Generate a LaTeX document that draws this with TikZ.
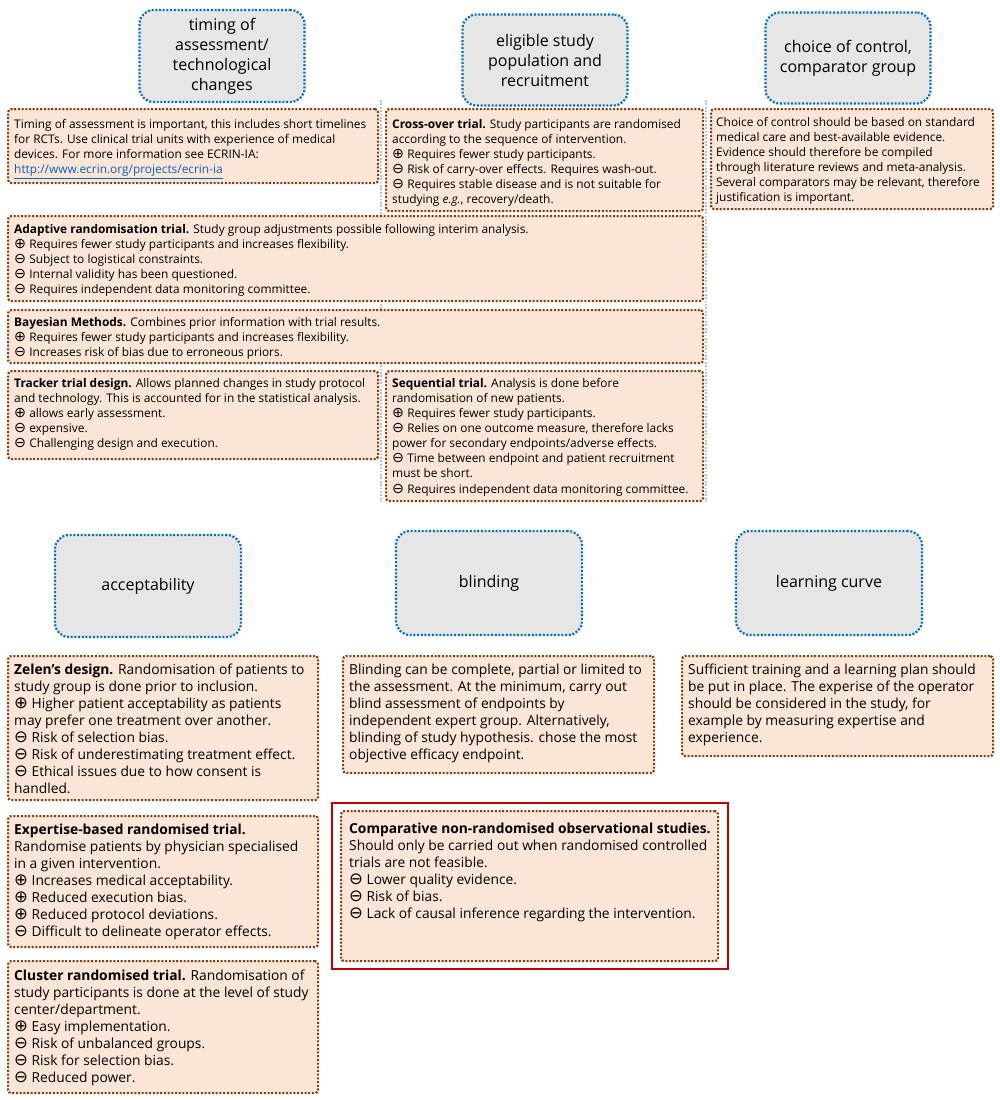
\documentclass[tikz,border=0pt]{standalone}
\usepackage{fontspec}
\setmainfont{Open Sans}
\newfontfamily\symf[Scale=1.2]{DejaVu Sans}
\definecolor{hdrblue}{HTML}{0070C0}
\definecolor{hdrfill}{HTML}{E7E6E6}
\definecolor{boxfill}{HTML}{FBE5D6}
\definecolor{boxline}{HTML}{843C0C}
\definecolor{grpgray}{HTML}{BFBFBF}
\definecolor{redframe}{HTML}{C00000}
\definecolor{linkblue}{HTML}{0563C1}
\newcommand{\myplus}{{\symf ⊕}}
\newcommand{\myminus}{{\symf ⊖}}
\begin{document}
\begin{tikzpicture}[x=1pt,y=-1pt,
  hdr/.style={draw=hdrblue, fill=hdrfill, line width=2.2pt, dash pattern=on 2pt off 1.7pt,
    rounded corners=14pt, inner sep=0pt, align=center, font=\fontsize{16}{20}\selectfont},
  tbox/.style={draw=boxline, fill=boxfill, line width=2.2pt, dash pattern=on 2pt off 1.7pt,
    rounded corners=3pt, inner sep=0pt, anchor=north west},
  txt/.style={anchor=north west, inner sep=0pt, align=left, font=\fontsize{11.9}{15.1}\selectfont},
  txtL/.style={txt, font=\fontsize{13.8}{17}\selectfont},
  grp/.style={draw=grpgray, line width=1.8pt, dash pattern=on 1.8pt off 1.6pt},
  redf/.style={draw=redframe, line width=2.2pt, inner sep=0pt, anchor=north west}
]
\fill[white] (0,0) rectangle (1000,1100);
\useasboundingbox (0,0) rectangle (1000,1100);

% group guide lines
\coordinate (g1t) at (381,100); \coordinate (g1b) at (381,502);
\coordinate (g2t) at (706,100); \coordinate (g2b) at (706,502);
\draw[grp] (g1t) -- (g1b);
\draw[grp] (g2t) -- (g2b);

% header boxes
\node[hdr, minimum width=165pt, minimum height=92pt] (h1) at (222,56) {timing of\\assessment/\\technological\\changes};
\node[hdr, minimum width=165pt, minimum height=91pt] (h2) at (545,60) {eligible study\\population and\\recruitment};
\node[hdr, minimum width=165pt, minimum height=91pt] (h3) at (848,58) {choice of control,\\comparator group};
\node[hdr, minimum width=186pt, minimum height=102pt] (h4) at (148,586) {acceptability};
\node[hdr, minimum width=186pt, minimum height=104pt] (h5) at (489,583) {blinding};
\node[hdr, minimum width=186pt, minimum height=104pt] (h6) at (829,583) {learning curve};

% text boxes
\node[tbox, minimum width=370pt, minimum height=74pt] (A) at (7,108) {};
\node[txt] (At) at (14,119) {Timing of assessment is important, this includes short timelines\\
for RCTs. Use clinical trial units with experience of medical\\
devices. For more information see ECRIN-IA:\\
\textcolor{linkblue}{\underline{http://www.ecrin.org/projects/ecrin-ia}}};

\node[tbox, minimum width=317pt, minimum height=102pt] (B) at (385,108) {};
\node[txt] (Bt) at (392,119) {\textbf{Cross-over trial.} Study participants are randomised\\
according to the sequence of intervention.\\
\myplus{} Requires fewer study participants.\\
\myminus{} Risk of carry-over effects. Requires wash-out.\\
\myminus{} Requires stable disease and is not suitable for\\
studying \textit{e.g.}, recovery/death.};

\node[tbox, minimum width=282pt, minimum height=100pt] (C) at (710,108) {};
\node[txt] (Ct) at (716,117) {Choice of control should be based on standard\\
medical care and best-available evidence.\\
Evidence should therefore be compiled\\
through literature reviews and meta-analysis.\\
Several comparators may be relevant, therefore\\
justification is important.};

\node[tbox, minimum width=695pt, minimum height=85pt] (D) at (7,215) {};
\node[txt] (Dt) at (14,224) {\textbf{Adaptive randomisation trial.} Study group adjustments possible following interim analysis.\\
\myplus{} Requires fewer study participants and increases flexibility.\\
\myminus{} Subject to logistical constraints.\\
\myminus{} Internal validity has been questioned.\\
\myminus{} Requires independent data monitoring committee.};

\node[tbox, minimum width=695pt, minimum height=53pt] (E) at (7,309) {};
\node[txt] (Et) at (14,317) {\textbf{Bayesian Methods.} Combines prior information with trial results.\\
\myplus{} Requires fewer study participants and increases flexibility.\\
\myminus{} Increases risk of bias due to erroneous priors.};

\node[tbox, minimum width=370pt, minimum height=88pt] (F) at (7,370) {};
\node[txt] (Ft) at (14,378) {\textbf{Tracker trial design.} Allows planned changes in study protocol\\
and technology. This is accounted for in the statistical analysis.\\
\myplus{} allows early assessment.\\
\myminus{} expensive.\\
\myminus{} Challenging design and execution.};

\node[tbox, minimum width=317pt, minimum height=130pt] (G) at (385,370) {};
\node[txt] (Gt) at (392,378) {\textbf{Sequential trial.} Analysis is done before\\
randomisation of new patients.\\
\myplus{} Requires fewer study participants.\\
\myminus{} Relies on one outcome measure, therefore lacks\\
power for secondary endpoints/adverse effects.\\
\myminus{} Time between endpoint and patient recruitment\\
must be short.\\
\myminus{} Requires independent data monitoring committee.};

\node[tbox, minimum width=310pt, minimum height=144pt] (H) at (7,655) {};
\node[txtL] (Ht) at (14,663.5) {\textbf{Zelen’s design.} Randomisation of patients to\\
study group is done prior to inclusion.\\
\myplus{} Higher patient acceptability as patients\\
may prefer one treatment over another.\\
\myminus{} Risk of selection bias.\\
\myminus{} Risk of underestimating treatment effect.\\
\myminus{} Ethical issues due to how consent is\\
handled.};

\node[tbox, minimum width=311pt, minimum height=117pt] (I) at (342,655) {};
\node[txtL] (It) at (349,663.5) {Blinding can be complete, partial or limited to\\
the assessment. At the minimum, carry out\\
blind assessment of endpoints by\\
independent expert group. Alternatively,\\
blinding of study hypothesis. chose the most\\
objective efficacy endpoint.};

\node[tbox, minimum width=311pt, minimum height=100pt] (J) at (681,655) {};
\node[txtL] (Jt) at (688,663.5) {Sufficient training and a learning plan should\\
be put in place. The experise of the operator\\
should be considered in the study, for\\
example by measuring expertise and\\
experience.};

\node[tbox, minimum width=310pt, minimum height=131pt] (K) at (7,815) {};
\node[txtL] (Kt) at (14,823.5) {\textbf{Expertise-based randomised trial.}\\
Randomise patients by physician specialised\\
in a given intervention.\\
\myplus{} Increases medical acceptability.\\
\myplus{} Reduced execution bias.\\
\myplus{} Reduced protocol deviations.\\
\myminus{} Difficult to delineate operator effects.};

\node[tbox, minimum width=310pt, minimum height=132pt] (L) at (7,960) {};
\node[txtL] (Lt) at (14,969.5) {\textbf{Cluster randomised trial.} Randomisation of\\
study participants is done at the level of study\\
center/department.\\
\myplus{} Easy implementation.\\
\myminus{} Risk of unbalanced groups.\\
\myminus{} Risk for selection bias.\\
\myminus{} Reduced power.};

\node[redf, minimum width=396pt, minimum height=166pt] (R) at (331,802) {};
\node[tbox, minimum width=377pt, minimum height=150pt] (M) at (340,810) {};
\node[txtL] (Mt) at (349,822.5) {\textbf{Comparative non-randomised observational studies.}\\
Should only be carried out when randomised controlled\\
trials are not feasible.\\
\myminus{} Lower quality evidence.\\
\myminus{} Risk of bias.\\
\myminus{} Lack of causal inference regarding the intervention.};
\end{tikzpicture}
\end{document}
